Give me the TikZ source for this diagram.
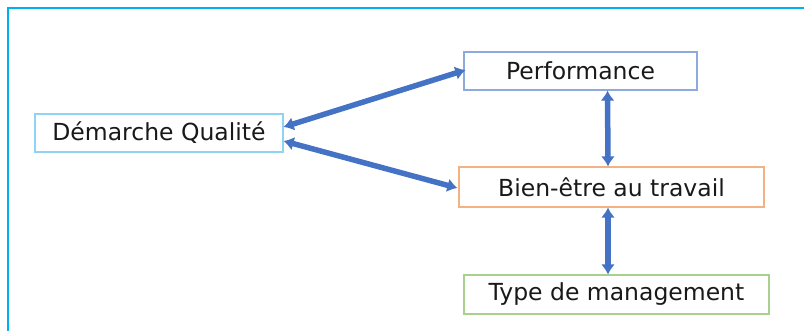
\documentclass[tikz,border=0pt]{standalone}
\usepackage{fontspec}
\setmainfont{DejaVu Sans}
\usetikzlibrary{arrows.meta}
\definecolor{frame}{HTML}{00B0F0}
\definecolor{arr}{HTML}{4472C4}
\definecolor{bdq}{HTML}{8FD3F5}
\definecolor{bperf}{HTML}{8EA9DB}
\definecolor{bbien}{HTML}{F4B183}
\definecolor{btype}{HTML}{A9D18E}
\tikzset{
  box/.style={draw, line width=1.2pt, inner sep=0pt, font=\fontsize{23.5}{26}\selectfont, text=black!90},
  link/.style={arr, line width=5.5pt, {Latex[length=10pt,width=14pt]}-{Latex[length=10pt,width=14pt]}}
}
\begin{document}
\begin{tikzpicture}[x=1pt,y=-1pt]
\useasboundingbox (0,0) rectangle (804,331);
\draw[frame, line width=2pt] (8,340) -- (8,8) -- (810,8);
\node[box, draw=bdq, minimum width=248pt, minimum height=38pt] (dq) at (159,133) {Démarche Qualité};
\node[box, draw=bperf, minimum width=233pt, minimum height=38pt] (perf) at (580.5,71) {Performance};
\node[box, draw=bbien, minimum width=305pt, minimum height=40pt] (bien) at (611.5,187) {Bien-être au travail};
\node[box, draw=btype, minimum width=305pt, minimum height=39pt] (type) at (616.5,294.5) {Type de management};
\draw[link] ([yshift=6pt]dq.east) -- ([xshift=2pt,yshift=1pt]perf.west);
\draw[link] ([yshift=-8pt]dq.east) -- ([xshift=-1pt,yshift=-1pt]bien.west);
\draw[link] ([xshift=27pt]perf.south) -- ([xshift=-3.5pt]bien.north);
\draw[link] ([xshift=-3.5pt]bien.south) -- ([xshift=-8.5pt]type.north);
\end{tikzpicture}
\end{document}
